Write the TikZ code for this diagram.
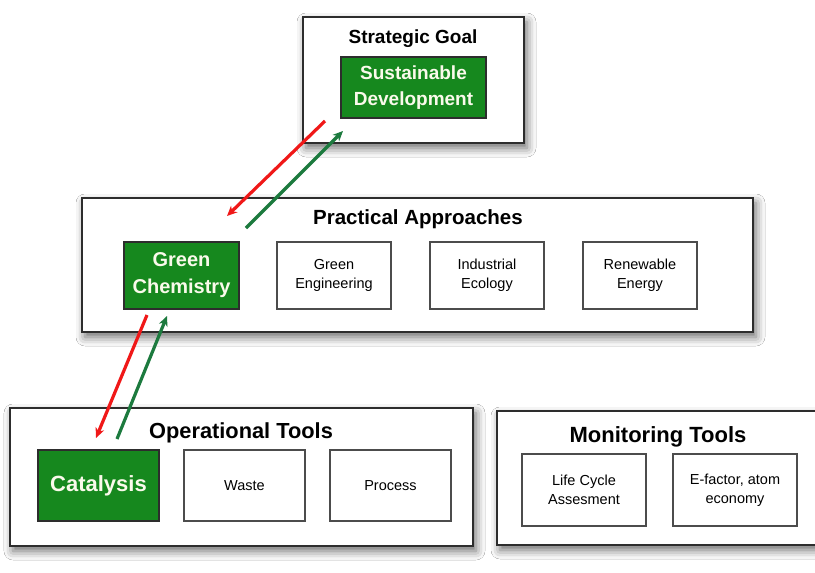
\documentclass[tikz,border=0pt]{standalone}
\usepackage{fontspec}
\setmainfont{Liberation Sans}
\usetikzlibrary{arrows.meta,shadows.blur}

\definecolor{boxgreen}{RGB}{22,136,30}
\definecolor{boxtext}{RGB}{250,250,235}
\definecolor{uparrow}{RGB}{28,122,62}
\definecolor{downarrow}{RGB}{240,24,24}
\definecolor{frame}{RGB}{45,45,45}

\tikzset{
  panel/.style={draw=frame, line width=1.6pt, fill=white, inner sep=0pt, outer sep=0pt,
    blur shadow={shadow xshift=3pt, shadow yshift=-5pt, shadow blur radius=9pt, shadow opacity=60}},
  paneltitle/.style={inner sep=0pt},
  greenbox/.style={draw=frame, line width=1.2pt, fill=boxgreen, text=boxtext, align=center,
    inner sep=0pt, outer sep=0pt, font=\fontsize{19}{26}\selectfont\bfseries},
  itembox/.style={draw=frame!85, line width=1.3pt, fill=white, align=center,
    inner sep=0pt, outer sep=0pt, minimum width=114pt, minimum height=67pt,
    font=\fontsize{14.5}{19}\selectfont},
  pushdown/.style={draw=downarrow, line width=3.2pt, -{Stealth[length=10pt,width=9pt,inset=3pt]}},
  pushup/.style={draw=uparrow, line width=3.2pt, -{Stealth[length=10pt,width=9pt,inset=3pt]}},
}

\begin{document}
\begin{tikzpicture}[x=1pt, y=-1pt]
  \clip (0,0) rectangle (815,573);
  \fill[white] (0,0) rectangle (815,573);

  % panels
  \node[panel, minimum width=221pt, minimum height=126pt] (goalpanel) at (413.5,80) {};
  \node[panel, minimum width=671pt, minimum height=134pt] (approachpanel) at (417.5,265) {};
  \node[panel, minimum width=463pt, minimum height=138pt] (oppanel) at (241.5,477) {};
  \node[panel, minimum width=333pt, minimum height=134pt] (monpanel) at (663.5,478) {};

  % panel titles
  \node[paneltitle, font=\fontsize{19}{22}\selectfont\bfseries] (goaltitle) at (413,39) {Strategic Goal};
  \node[paneltitle, font=\fontsize{20.5}{22}\selectfont\bfseries] (approachtitle) at (418,219) {Practical Approaches};
  \node[paneltitle, font=\fontsize{21.8}{24}\selectfont\bfseries] (optitle) at (241,433) {Operational Tools};
  \node[paneltitle, font=\fontsize{22}{24}\selectfont\bfseries] (montitle) at (658,437) {Monitoring Tools};

  % strategic goal
  \node[greenbox, minimum width=145pt, minimum height=61pt] (sd) at (413.5,87.5)
    {Sustainable\\Development};

  % practical approaches
  \node[greenbox, minimum width=115pt, minimum height=67pt, font=\fontsize{20}{27}\selectfont\bfseries]
    (gc) at (181.5,275.5) {Green\\Chemistry};
  \node[itembox] (ge) at (334,275.5) {Green\\Engineering};
  \node[itembox] (ie) at (487,275.5) {Industrial\\Ecology};
  \node[itembox] (re) at (640,275.5) {Renewable\\Energy};

  % operational tools
  \node[greenbox, minimum width=121pt, minimum height=71pt, font=\fontsize{22}{26}\selectfont\bfseries]
    (cat) at (98.5,485.5) {Catalysis};
  \node[itembox, minimum width=121pt, minimum height=71pt] (waste) at (244.5,485.5) {Waste};
  \node[itembox, minimum width=121pt, minimum height=71pt] (process) at (390.5,485.5) {Process};

  % monitoring tools
  \node[itembox, minimum width=124pt, minimum height=72pt] (lca) at (584,490) {Life Cycle\\Assesment};
  \node[itembox, minimum width=124pt, minimum height=72pt] (ef) at (735,490) {E-factor, atom\\economy};

  % arrow end points
  \coordinate (sdout) at (325,121);
  \coordinate (gcin) at (227,216);
  \coordinate (gcout) at (246,228);
  \coordinate (sdin) at (343,131);
  \coordinate (gcdown) at (147,315);
  \coordinate (catin) at (96,438);
  \coordinate (catout) at (117,439);
  \coordinate (gcup) at (167,316);

  % goal <-> approach
  \draw[pushdown] (sdout) -- (gcin);
  \draw[pushup] (gcout) -- (sdin);
  % approach <-> tools
  \draw[pushdown] (gcdown) -- (catin);
  \draw[pushup] (catout) -- (gcup);
\end{tikzpicture}
\end{document}
